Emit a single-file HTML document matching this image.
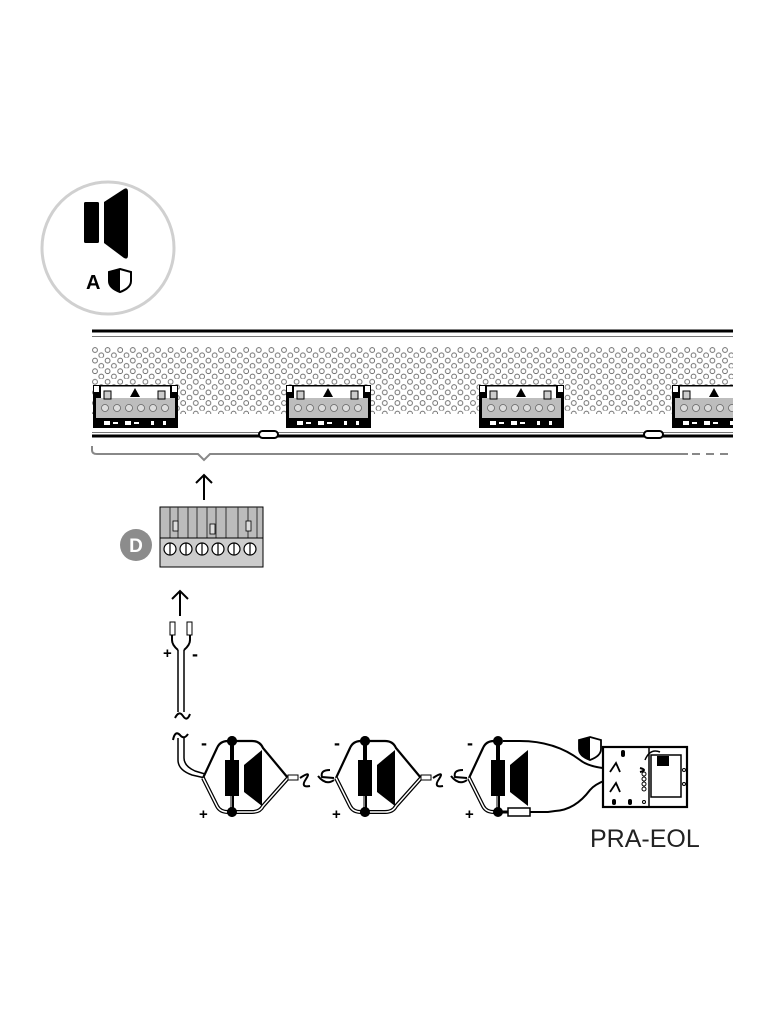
<!DOCTYPE html>
<html><head><meta charset="utf-8"><style>
html,body{margin:0;padding:0;background:#fff;width:768px;height:1024px;overflow:hidden}
svg{display:block}
</style></head><body>
<svg width="768" height="1024" viewBox="0 0 768 1024" xmlns="http://www.w3.org/2000/svg" font-family="Liberation Sans, sans-serif">
<defs>
<pattern id="perf" x="92" y="347" width="12.6" height="10.6" patternUnits="userSpaceOnUse">
<circle cx="3" cy="3" r="2.4" fill="none" stroke="#666" stroke-width="0.9"/>
<circle cx="9.3" cy="8.3" r="2.4" fill="none" stroke="#666" stroke-width="0.9"/>
</pattern>
<g id="conn">
<rect x="0" y="0" width="85" height="43" fill="#000"/>
<rect x="8" y="1.5" width="69" height="12" fill="#fff"/>
<rect x="3" y="13" width="79" height="20" fill="#bdbdbd"/>
<rect x="11" y="6" width="7" height="8" fill="#ccc" stroke="#000" stroke-width="1"/>
<rect x="65" y="6" width="7" height="8" fill="#ccc" stroke="#000" stroke-width="1"/>
<polygon points="42,3 37,12 47,12" fill="#000"/>
<rect x="1" y="1" width="5" height="6" fill="#fff"/>
<rect x="79" y="1" width="5" height="6" fill="#fff"/>
<g fill="#ddd" stroke="#666" stroke-width="0.8">
<circle cx="12" cy="23" r="3.5"/><circle cx="24" cy="23" r="3.5"/><circle cx="36" cy="23" r="3.5"/><circle cx="48" cy="23" r="3.5"/><circle cx="60" cy="23" r="3.5"/><circle cx="72" cy="23" r="3.5"/>
</g>
<g fill="#fff"><rect x="11" y="36" width="6" height="4"/><rect x="20" y="37" width="5" height="2"/><rect x="32" y="36" width="6" height="4"/><rect x="41" y="37" width="5" height="2"/><rect x="58" y="36" width="3" height="4"/><rect x="70" y="36" width="3" height="4"/></g>
</g>
<g id="spkL">
<path d="M-29,0 L-15,-30 Q-12,-37 -4,-37 L0,-37" fill="none" stroke="#000" stroke-width="2.2"/>
<path d="M-29,0 L-15,28 Q-12,34 -4,34 L0,34" fill="none" stroke="#000" stroke-width="4"/>
<path d="M-29,0 L-15,28 Q-12,34 -4,34 L0,34" fill="none" stroke="#fff" stroke-width="1.5"/>
<line x1="0" y1="-37" x2="0" y2="35" stroke="#000" stroke-width="4"/>
<line x1="-1" y1="14" x2="-1" y2="30" stroke="#fff" stroke-width="1"/>
<rect x="-7" y="-18" width="14" height="36" fill="#000"/>
<polygon points="12,-13 30,-28 30,28 12,14" fill="#000"/>
<circle cx="0" cy="-37" r="5" fill="#000"/>
<circle cx="0" cy="34" r="5" fill="#000"/>
<text x="-31" y="-29" font-size="18" font-weight="bold">-</text>
<text x="-33" y="41" font-size="15" font-weight="bold">+</text>
</g>
<g id="spkR">
<path d="M0,-37 L20,-37 Q28,-37 31,-30 L56,0" fill="none" stroke="#000" stroke-width="2.2"/>
<path d="M0,34 L20,34 Q28,34 31,28 L56,0" fill="none" stroke="#000" stroke-width="4"/>
<path d="M0,34 L20,34 Q28,34 31,28 L56,0" fill="none" stroke="#fff" stroke-width="1.5"/>
<circle cx="0" cy="-37" r="5" fill="#000"/>
<circle cx="0" cy="34" r="5" fill="#000"/>
</g>
</defs>

<!-- top icon -->
<circle cx="108" cy="248" r="66" fill="#fff" stroke="#d0d0d0" stroke-width="3"/>
<rect x="84" y="202" width="15" height="41" rx="1.5" fill="#000"/>
<path d="M104,202 L124,189 Q128,187 128,192 L128,255 Q128,260 124,258 L104,243 Z" fill="#000"/>
<text x="86" y="289" font-size="20" font-weight="bold">A</text>
<path d="M120,269 L131,272 L131,281 Q131,288 120,292 Q109,288 109,281 L109,272 Z" fill="#fff" stroke="#000" stroke-width="2"/>
<path d="M120,269 L109,272 L109,281 Q109,288 120,292 Z" fill="#000"/>

<!-- panel -->
<line x1="92" y1="331" x2="733" y2="331" stroke="#000" stroke-width="3"/>
<line x1="92" y1="336.5" x2="733" y2="336.5" stroke="#777" stroke-width="1"/>
<rect x="92" y="347" width="641" height="67" fill="url(#perf)"/>
<use href="#conn" x="93" y="385"/>
<use href="#conn" x="286" y="385"/>
<use href="#conn" x="479" y="385"/>
<svg x="672" y="385" width="61" height="43"><use href="#conn"/></svg>
<line x1="92" y1="432.5" x2="733" y2="432.5" stroke="#777" stroke-width="1"/>
<line x1="92" y1="436" x2="733" y2="436" stroke="#000" stroke-width="3"/>
<rect x="259" y="431" width="19" height="7" rx="3.5" fill="#fff" stroke="#000" stroke-width="2"/>
<rect x="644" y="431" width="19" height="7" rx="3.5" fill="#fff" stroke="#000" stroke-width="2"/>
<!-- bracket -->
<path d="M92,446 L92,450 Q92,454 97,454 L198,454 L204,460 L210,454 L688,454" fill="none" stroke="#888" stroke-width="2"/>
<path d="M692,454 L733,454" stroke="#888" stroke-width="2" stroke-dasharray="8,6"/>
<!-- arrow1 -->
<path d="M204,500 L204,475 M196,483 L204,475 L212,483" fill="none" stroke="#000" stroke-width="2"/>

<!-- connector D -->
<rect x="160" y="507" width="103" height="31" fill="#bbb" stroke="#000" stroke-width="1"/>
<g stroke="#333" stroke-width="1">
<line x1="170" y1="507" x2="170" y2="538"/><line x1="178" y1="507" x2="178" y2="538"/><line x1="188" y1="507" x2="188" y2="538"/><line x1="197" y1="507" x2="197" y2="538"/><line x1="207" y1="507" x2="207" y2="538"/><line x1="216" y1="507" x2="216" y2="538"/><line x1="226" y1="507" x2="226" y2="538"/><line x1="238" y1="507" x2="238" y2="538"/><line x1="248" y1="507" x2="248" y2="538"/><line x1="257" y1="507" x2="257" y2="538"/>
</g>
<rect x="173" y="521" width="5" height="10" fill="#ddd" stroke="#000" stroke-width="0.8"/>
<rect x="210" y="524" width="5" height="10" fill="#ddd" stroke="#000" stroke-width="0.8"/>
<rect x="246" y="521" width="5" height="10" fill="#ddd" stroke="#000" stroke-width="0.8"/>
<rect x="160" y="538" width="103" height="29" fill="#ccc" stroke="#000" stroke-width="1"/>
<g fill="#fff" stroke="#000" stroke-width="1.2">
<circle cx="170" cy="549" r="6"/><circle cx="186" cy="549" r="6"/><circle cx="202" cy="549" r="6"/><circle cx="218" cy="549" r="6"/><circle cx="234" cy="549" r="6"/><circle cx="250" cy="549" r="6"/>
</g>
<g stroke="#000" stroke-width="1.2"><line x1="170" y1="543" x2="170" y2="555"/><line x1="186" y1="543" x2="186" y2="555"/><line x1="202" y1="543" x2="202" y2="555"/><line x1="218" y1="543" x2="218" y2="555"/><line x1="234" y1="543" x2="234" y2="555"/><line x1="250" y1="543" x2="250" y2="555"/></g>
<circle cx="136" cy="545" r="16" fill="#8c8c8c"/>
<text x="136" y="552" font-size="19" font-weight="bold" fill="#fff" text-anchor="middle">D</text>
<!-- arrow2 -->
<path d="M180,616 L180,591 M172,599 L180,591 L188,599" fill="none" stroke="#000" stroke-width="2"/>

<!-- cable -->
<rect x="170" y="622" width="5" height="13" fill="#fff" stroke="#000" stroke-width="1"/>
<rect x="187" y="622" width="5" height="13" fill="#fff" stroke="#000" stroke-width="1"/>
<path d="M172,635 L172,640 Q172,645 178,650 M190,635 L190,640 Q190,645 184,650" fill="none" stroke="#000" stroke-width="2"/>
<text x="163" y="658" font-size="15" font-weight="bold">+</text>
<text x="192" y="660" font-size="18" font-weight="bold">-</text>
<line x1="178" y1="650" x2="178" y2="712" stroke="#000" stroke-width="1.5"/>
<line x1="184" y1="650" x2="184" y2="712" stroke="#000" stroke-width="1.5"/>
<path d="M175,718 Q179,710 183,716 Q187,722 190,714" fill="none" stroke="#000" stroke-width="2"/>
<path d="M173,740 Q175,730 180,735 Q184,740 188,734" fill="none" stroke="#000" stroke-width="2"/>
<path d="M178,738 L178,760 Q178,770 192,775 L205,778" fill="none" stroke="#000" stroke-width="1.5"/>
<path d="M184,738 L184,758 Q184,766 195,771 L205,774" fill="none" stroke="#000" stroke-width="1.5"/>

<use href="#spkL" x="232" y="778"/><use href="#spkR" x="232" y="778"/>
<use href="#spkL" x="365" y="778"/><use href="#spkR" x="365" y="778"/>
<use href="#spkL" x="498" y="778"/>
<!-- link segments -->
<g fill="none" stroke="#000" stroke-width="2">
<rect x="288" y="775" width="10" height="5" fill="#fff" stroke-width="1"/>
<path d="M300,778 Q312,770 306,779 Q300,788 310,786"/>
<path d="M330,770 Q320,770 322,777 L334,778"/>
<path d="M318,776 Q326,786 334,780"/>
<rect x="421" y="775" width="10" height="5" fill="#fff" stroke-width="1"/>
<path d="M433,778 Q445,770 439,779 Q433,788 443,786"/>
<path d="M463,770 Q453,770 455,777 L467,778"/>
<path d="M451,776 Q459,786 467,780"/>
</g>
<!-- EOL wires -->
<path d="M503,741 L520,741 Q555,741 580,760 Q595,772 640,768" fill="none" stroke="#000" stroke-width="2"/>
<path d="M498,812 L508,812" stroke="#000" stroke-width="3"/>
<rect x="508" y="808" width="22" height="8" fill="#fff" stroke="#000" stroke-width="1.5"/>
<path d="M530,812 L548,812 L555,811 Q575,810 590,790 Q600,778 640,772" fill="none" stroke="#000" stroke-width="2"/>
<!-- EOL board -->
<rect x="603" y="747" width="84" height="60" fill="#fff" stroke="#000" stroke-width="2.2"/>
<line x1="649" y1="747" x2="649" y2="807" stroke="#000" stroke-width="1.5"/>
<rect x="651" y="755" width="30" height="42" fill="#fff" stroke="#000" stroke-width="1.5"/>
<rect x="657" y="756" width="12" height="10" fill="#000"/>
<path d="M645,760 Q650,748 660,752" fill="none" stroke="#000" stroke-width="1.5"/>
<path d="M610,772 L616,763 L620,772 M610,792 L616,783 L620,792" fill="none" stroke="#000" stroke-width="1.8"/>
<g fill="none" stroke="#000" stroke-width="1"><circle cx="644" cy="774" r="2"/><circle cx="644" cy="779" r="2"/><circle cx="644" cy="784" r="2"/><circle cx="644" cy="789" r="2"/><circle cx="684" cy="770" r="1.5"/><circle cx="684" cy="784" r="1.5"/><circle cx="644" cy="802" r="1.5"/></g>
<path d="M640,768 Q648,770 640,772" fill="none" stroke="#000" stroke-width="2"/>
<rect x="621" y="750" width="4" height="7" rx="2" fill="#000"/>
<rect x="612" y="799" width="4" height="6" rx="2" fill="#000"/>
<rect x="628" y="799" width="4" height="6" rx="2" fill="#000"/>
<!-- shield -->
<path d="M590,737 L601,740 L601,749 Q601,756 590,760 Q579,756 579,749 L579,740 Z" fill="#fff" stroke="#000" stroke-width="1.8"/>
<path d="M590,737 L579,740 L579,749 Q579,756 590,760 Z" fill="#000"/>
<text x="590" y="847" font-size="25" fill="#222">PRA-EOL</text>
</svg>
</body></html>
